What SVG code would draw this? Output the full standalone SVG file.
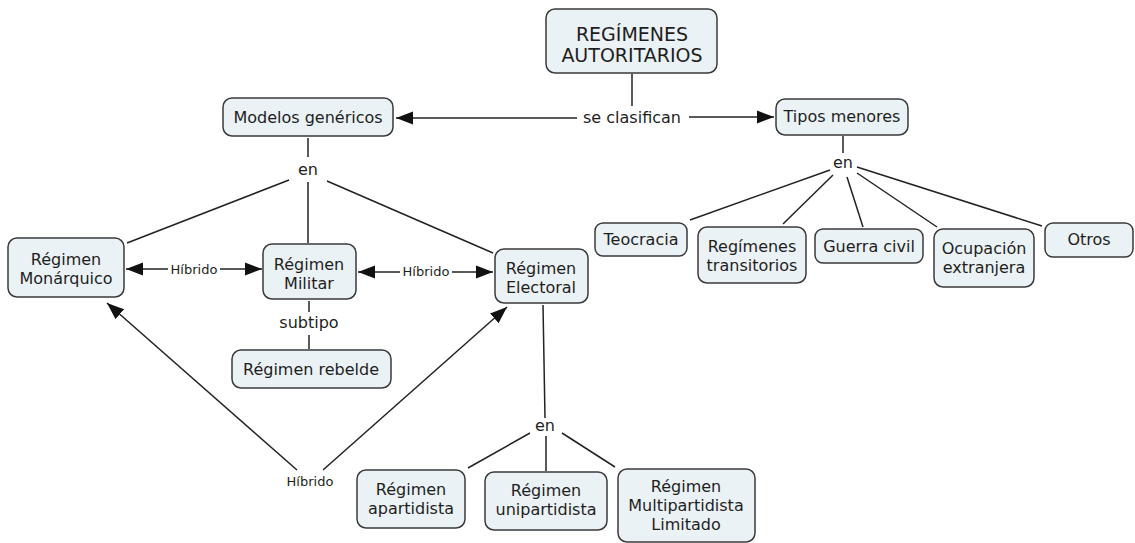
<svg xmlns="http://www.w3.org/2000/svg" width="1135" height="543" viewBox="0 0 1135 543">
<style>
.box{fill:#EBF2F5;stroke:#3a3a3a;stroke-width:1.5}
.t{font-family:"DejaVu Sans",Verdana,sans-serif;font-size:16px;fill:#1e1e1e;text-anchor:middle}
.big{font-size:19px}
.sm{font-size:13px}
.c line{stroke:#222;stroke-width:1.5}
</style>
<defs>
<marker id="ah" markerUnits="userSpaceOnUse" markerWidth="18" markerHeight="14" refX="17" refY="7" orient="auto">
<path d="M0,0.5 L17,7 L0,13.5 z" fill="#111"/>
</marker>
</defs>
<rect width="1135" height="543" fill="#fff"/>
<g class="c" id="connectors">
<line x1="632" y1="74" x2="632" y2="106"/>
<line x1="577" y1="118" x2="396" y2="118" marker-end="url(#ah)"/>
<line x1="689" y1="117" x2="774" y2="117" marker-end="url(#ah)"/>
<line x1="308" y1="138" x2="308" y2="157"/>
<line x1="289" y1="180" x2="127" y2="243"/>
<line x1="308" y1="182" x2="308" y2="243"/>
<line x1="327" y1="181" x2="493" y2="253"/>
<line x1="843" y1="136" x2="843" y2="153"/>
<line x1="830" y1="170" x2="690" y2="220"/>
<line x1="833" y1="175" x2="783" y2="224"/>
<line x1="847" y1="177" x2="863" y2="227"/>
<line x1="857" y1="173" x2="937" y2="227"/>
<line x1="857" y1="167" x2="1042" y2="226"/>
<line x1="168" y1="269" x2="126" y2="269" marker-end="url(#ah)"/>
<line x1="220" y1="269" x2="262" y2="269" marker-end="url(#ah)"/>
<line x1="400" y1="272" x2="358" y2="272" marker-end="url(#ah)"/>
<line x1="452" y1="272" x2="493" y2="272" marker-end="url(#ah)"/>
<line x1="309" y1="301" x2="309" y2="312"/>
<line x1="309" y1="335" x2="309" y2="349"/>
<line x1="297" y1="470" x2="107" y2="303" marker-end="url(#ah)"/>
<line x1="323" y1="470" x2="507" y2="307" marker-end="url(#ah)"/>
<line x1="543" y1="305" x2="545" y2="418"/>
<line x1="546" y1="436" x2="546" y2="471"/>
<line x1="530" y1="433" x2="468" y2="468"/>
<line x1="562" y1="433" x2="615" y2="467"/>
</g>
<g id="labels">
<text class="t" x="632" y="123">se clasifican</text>
<text class="t" x="308" y="175">en</text>
<text class="t" x="843" y="168">en</text>
<text class="t sm" x="194" y="274">Híbrido</text>
<text class="t sm" x="426" y="276">Híbrido</text>
<text class="t" x="309" y="328">subtipo</text>
<text class="t sm" x="310" y="486">Híbrido</text>
<text class="t" x="545" y="431">en</text>
</g>
<g id="n-autoritarios"><rect class="box" x="546" y="9" width="171" height="64" rx="9"/><text class="t big" x="632" y="41">REGÍMENES</text><text class="t big" x="632" y="62">AUTORITARIOS</text></g>
<g id="n-modelos"><rect class="box" x="223" y="98" width="170" height="38" rx="9"/><text class="t" x="308" y="123">Modelos genéricos</text></g>
<g id="n-tipos"><rect class="box" x="776" y="99" width="132" height="36" rx="9"/><text class="t" x="842" y="122">Tipos menores</text></g>
<g id="n-teocracia"><rect class="box" x="595" y="223" width="92" height="33" rx="8"/><text class="t" x="641" y="245">Teocracia</text></g>
<g id="n-transitorios"><rect class="box" x="698" y="227" width="108" height="56" rx="9"/><text class="t" x="752" y="252">Regímenes</text><text class="t" x="752" y="271">transitorios</text></g>
<g id="n-guerra"><rect class="box" x="815" y="229" width="108" height="34" rx="8"/><text class="t" x="869" y="252">Guerra civil</text></g>
<g id="n-ocupacion"><rect class="box" x="934" y="229" width="100" height="58" rx="9"/><text class="t" x="984" y="254">Ocupación</text><text class="t" x="984" y="273">extranjera</text></g>
<g id="n-otros"><rect class="box" x="1045" y="223" width="88" height="34" rx="8"/><text class="t" x="1089" y="245">Otros</text></g>
<g id="n-monarquico"><rect class="box" x="8" y="238" width="116" height="59" rx="9"/><text class="t" x="66" y="265">Régimen</text><text class="t" x="66" y="284">Monárquico</text></g>
<g id="n-militar"><rect class="box" x="263" y="244" width="93" height="55" rx="9"/><text class="t" x="309" y="270">Régimen</text><text class="t" x="309" y="289">Militar</text></g>
<g id="n-electoral"><rect class="box" x="495" y="249" width="93" height="54" rx="9"/><text class="t" x="541" y="274">Régimen</text><text class="t" x="541" y="293">Electoral</text></g>
<g id="n-rebelde"><rect class="box" x="232" y="350" width="159" height="38" rx="9"/><text class="t" x="311" y="375">Régimen rebelde</text></g>
<g id="n-apartidista"><rect class="box" x="357" y="470" width="108" height="58" rx="9"/><text class="t" x="411" y="495">Régimen</text><text class="t" x="411" y="514">apartidista</text></g>
<g id="n-unipartidista"><rect class="box" x="485" y="472" width="122" height="58" rx="9"/><text class="t" x="546" y="496">Régimen</text><text class="t" x="546" y="515">unipartidista</text></g>
<g id="n-multipartidista"><rect class="box" x="618" y="469" width="137" height="73" rx="9"/><text class="t" x="686" y="492">Régimen</text><text class="t" x="686" y="511">Multipartidista</text><text class="t" x="686" y="530">Limitado</text></g>
</svg>
